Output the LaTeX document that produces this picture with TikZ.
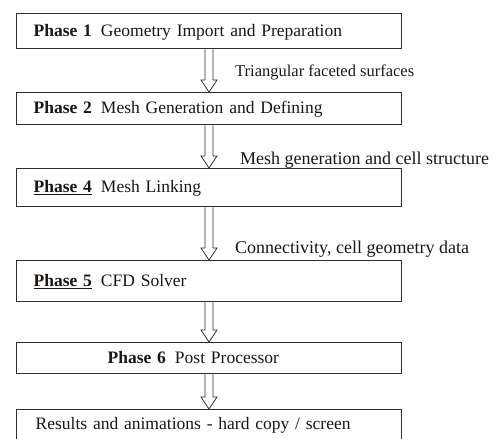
\documentclass[tikz,border=0pt]{standalone}
\usepackage{fontspec}
\setmainfont{Liberation Serif}
\usetikzlibrary{calc,positioning}
\definecolor{frame}{HTML}{2E2E2E}
\definecolor{ink}{HTML}{1C1612}
\newcommand{\phasetag}[1]{\textbf{Phase #1}\hspace{9pt}}
\newcommand{\phaseline}[1]{\underline{\textbf{Phase #1}}\hspace{9pt}}

\begin{document}
\begin{tikzpicture}[x=1pt, y=-1pt, font=\fontsize{17.5}{21}\selectfont, text=ink,
  phasebox/.style={draw=frame, line width=1.3pt, anchor=north west, text width=351pt,
    inner xsep=17pt, align=left, text height=12pt, text depth=2pt},
  note/.style={anchor=base west, inner sep=0pt, font=\fontsize{18}{21}\selectfont},
  hollow/.style={draw=frame, line width=0.8pt, to path={
    ($(\tikztostart)+(-4,0)$) -- ($(\tikztotarget)+(-4,-12)$) -- ($(\tikztotarget)+(-8,-12)$)
    -- (\tikztotarget) -- ($(\tikztotarget)+(8,-12)$) -- ($(\tikztotarget)+(4,-12)$)
    -- ($(\tikztostart)+(4,0)$)}}]
\useasboundingbox (0,0) rectangle (502,438);
% phase boxes
\node[phasebox, minimum height=35pt] (p1) at (16,13) {\phasetag{1}Geometry Import and Preparation};
\node[phasebox, minimum height=32pt] (p2) at (16,92) {\phasetag{2}Mesh Generation and Defining};
\node[phasebox, minimum height=38pt] (p4) at (16,168) {\phaseline{4}Mesh Linking};
\node[phasebox, minimum height=41pt] (p5) at (16,260) {\phaseline{5}CFD Solver};
\node[phasebox, minimum height=31pt] (p6) at (16,342) {\hspace*{74pt}\phasetag{6}Post Processor};
\node[phasebox, minimum height=30pt] (res) at (16,409) {\hspace*{2pt}Results and animations - hard copy / screen};
% hollow arrows down the middle
\coordinate (col) at (209,0);
\draw[hollow] (p1.south -| col) to (p2.north -| col);
\draw[hollow] (p2.south -| col) to (p4.north -| col);
\draw[hollow] (p4.south -| col) to (p5.north -| col);
\draw[hollow] (p5.south -| col) to (p6.north -| col);
\draw[hollow] (p6.south -| col) to (res.north -| col);
% data passed between phases
\node[note, font=\fontsize{16.5}{20}\selectfont] (d1) at (235,77) {Triangular faceted surfaces};
\node[note] (d2) at (240,165) {Mesh generation and cell structure};
\node[note] (d4) at (235,253) {Connectivity, cell geometry data};
\end{tikzpicture}
\end{document}
